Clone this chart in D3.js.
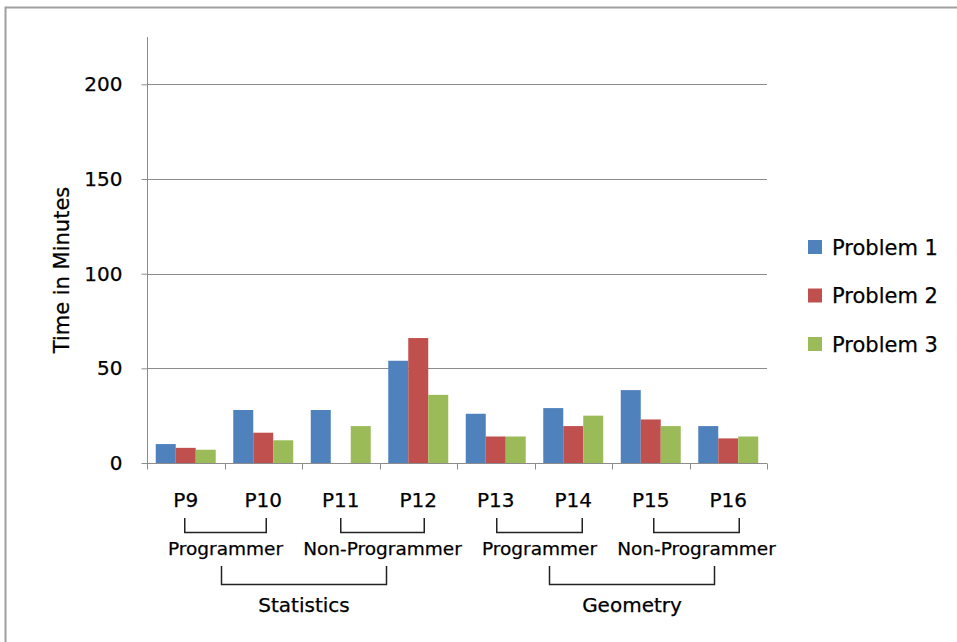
<!DOCTYPE html>
<html>
<head>
<meta charset="utf-8">
<script src="https://cdn.jsdelivr.net/npm/d3@7"></script>
<style>
  body { margin: 0; background: #fff; }
  text { font-family: "DejaVu Sans", sans-serif; fill: #000; stroke: #000; stroke-width: 0.25; }
</style>
</head>
<body>
<svg id="chart" width="957" height="642"></svg>
<script>
// data
var participants = ["P9", "P10", "P11", "P12", "P13", "P14", "P15", "P16"]
var seriesNames = ["Problem 1", "Problem 2", "Problem 3"]
var problem1 = [10, 28, 28, 54, 26, 29, 38.5, 19.5]
var problem2 = [8, 16, 0, 66, 14, 19.5, 23, 13]
var problem3 = [7, 12, 19.5, 36, 14, 25, 19.5, 14]
var yTicks = [0, 50, 100, 150, 200]
var groups = [["P9", "P10", "Programmer"], ["P11", "P12", "Non-Programmer"],
              ["P13", "P14", "Programmer"], ["P15", "P16", "Non-Programmer"]]
var subjects = [[0, 1, "Statistics"], [2, 3, "Geometry"]]

var colors = ["#4f81bd", "#c0504d", "#9bbb59"]
var values = [problem1, problem2, problem3]
// hand-placed annotation shifts (left end, right end) in px
var groupShift = [[-1, 3], [0, 6], [1, 9], [3, 11]]
var subjectShift = [[-4, 4], [10, 18]]

var svg = d3.select("#chart")

// outer frame
svg.append("rect").attr("x", 5.5).attr("y", 7.5).attr("width", 1000).attr("height", 700)
    .attr("fill", "none").attr("stroke", "#a0a0a0").attr("stroke-width", 2)

var pLeft = 147, pRight = 767, pTop = 37, pBottom = 463

var y = d3.scaleLinear().domain([0, 225]).range([pBottom, pTop])
var x0 = d3.scaleBand().domain(participants).range([pLeft, pRight])
var pad = x0.bandwidth() * 0.113
var x1 = d3.scaleBand().domain(seriesNames).range([pad, x0.bandwidth() - pad])

// gridlines
svg.append("g").selectAll("line").data(yTicks.slice(1)).enter().append("line")
    .attr("x1", pLeft).attr("x2", pRight)
    .attr("y1", function (d) { return Math.round(y(d)) + 0.5 })
    .attr("y2", function (d) { return Math.round(y(d)) + 0.5 })
    .attr("stroke", "#8c8c8c").attr("stroke-width", 1)

// bars
values.forEach(function (vals, s) {
    svg.append("g").selectAll("rect").data(vals).enter().append("rect")
        .attr("x", function (d, i) { return x0(participants[i]) + x1(seriesNames[s]) })
        .attr("width", x1.bandwidth())
        .attr("y", function (d) { return y(d) })
        .attr("height", function (d) { return pBottom - y(d) })
        .attr("fill", colors[s])
})

// y axis
var yAxis = d3.axisLeft(y).tickValues(yTicks).tickSize(6).tickPadding(19)
var ga = svg.append("g").attr("transform", "translate(" + (pLeft + 0.5) + ",0)").call(yAxis)
ga.select(".domain").attr("d", "M0," + pTop + "V" + pBottom).attr("stroke", "#8c8c8c")
ga.selectAll(".tick line").attr("stroke", "#8c8c8c")
ga.selectAll(".tick text").attr("font-size", 20).attr("font-family", "DejaVu Sans").attr("fill", "#000")

// x axis: ticks on the category edges
var gx = svg.append("g").attr("transform", "translate(0," + (pBottom + 0.5) + ")")
gx.append("line").attr("x1", pLeft).attr("x2", pRight).attr("stroke", "#8c8c8c")
gx.selectAll("line.t").data(participants.concat(["end"])).enter().append("line")
    .attr("class", "t")
    .attr("x1", function (d, i) { return Math.round(pLeft + i * x0.step()) + 0.5 })
    .attr("x2", function (d, i) { return Math.round(pLeft + i * x0.step()) + 0.5 })
    .attr("y1", 0).attr("y2", 6).attr("stroke", "#8c8c8c")

function cx(p) { return x0(p) + x0.bandwidth() / 2 }

// participant labels
svg.append("g").selectAll("text").data(participants).enter().append("text")
    .attr("x", function (d) { return cx(d) }).attr("y", 507)
    .attr("text-anchor", "middle").attr("font-size", 20).text(function (d) { return d })

// small brackets + programmer labels
var gb = svg.append("g")
var mids = []
groups.forEach(function (g, i) {
    var a = cx(g[0]) + groupShift[i][0], b = cx(g[1]) + groupShift[i][1]
    mids.push((a + b) / 2)
    gb.append("path").attr("d", "M" + a + ",518V532.5H" + b + "V518")
        .attr("fill", "none").attr("stroke", "#222").attr("stroke-width", 1.5)
    gb.append("text").attr("x", (a + b) / 2).attr("y", 555)
        .attr("text-anchor", "middle").attr("font-size", 18.5).text(g[2])
})

// big brackets + subject labels
subjects.forEach(function (s, i) {
    var a = mids[s[0]] + subjectShift[i][0]
    var b = mids[s[1]] + subjectShift[i][1]
    gb.append("path").attr("d", "M" + a + ",566V584.5H" + b + "V566")
        .attr("fill", "none").attr("stroke", "#222").attr("stroke-width", 1.5)
    gb.append("text").attr("x", (a + b) / 2).attr("y", 612)
        .attr("text-anchor", "middle").attr("font-size", 20).text(s[2])
})

// y title
svg.append("text").attr("transform", "translate(69,270) rotate(-90)")
    .attr("text-anchor", "middle").attr("font-size", 21).text("Time in Minutes")

// legend
var lg = svg.append("g").selectAll("g").data(seriesNames).enter().append("g")
    .attr("transform", function (d, i) { return "translate(808," + (240 + i * 48.5) + ")" })
lg.append("rect").attr("width", 14).attr("height", 14).attr("fill", function (d, i) { return colors[i] })
lg.append("text").attr("x", 24).attr("y", 14.5).attr("font-size", 21).text(function (d) { return d })
</script>
</body>
</html>
